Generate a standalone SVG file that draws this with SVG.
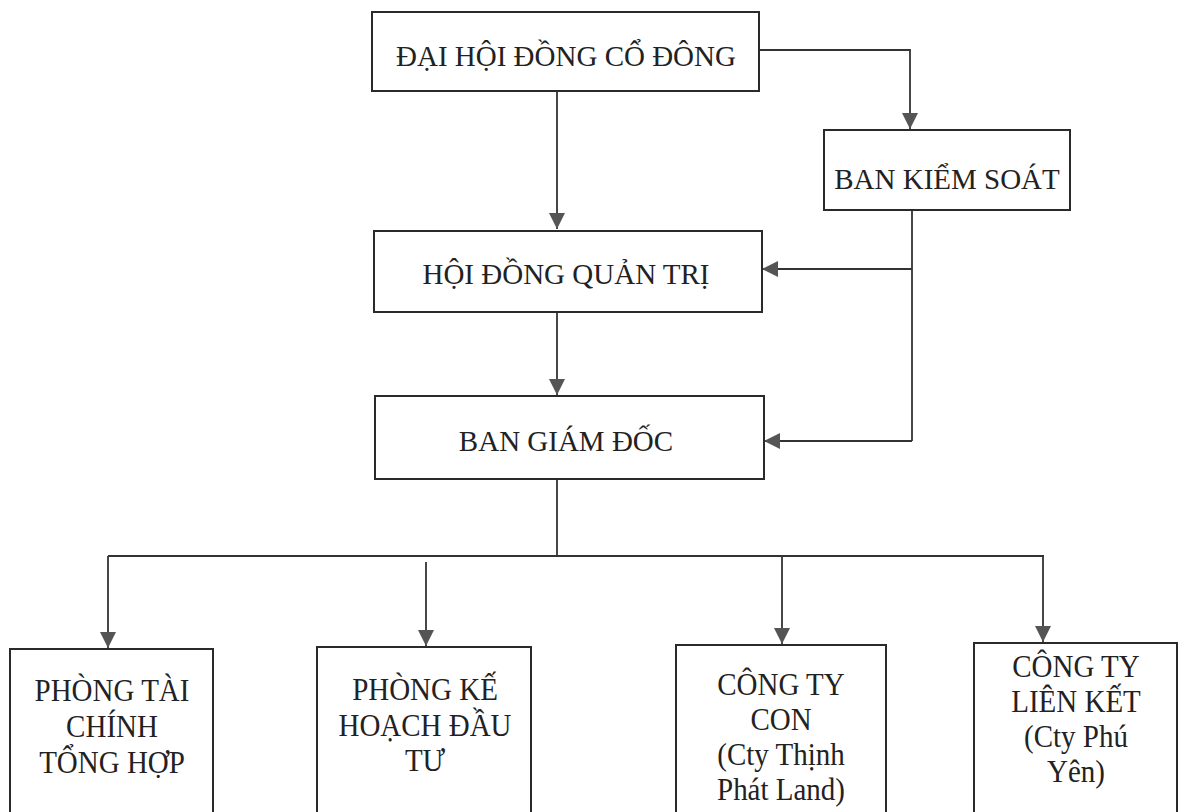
<svg xmlns="http://www.w3.org/2000/svg" width="1184" height="812" viewBox="0 0 1184 812">
<style>
.box{fill:#fff;stroke:#2a2a2a;stroke-width:2}
.ln{fill:none;stroke:#333;stroke-width:1.8}
text{font-family:"Liberation Serif","Times New Roman",serif;font-size:29px;fill:#222;text-anchor:middle}
</style>
<defs>
<marker id="ah" markerUnits="userSpaceOnUse" markerWidth="16" markerHeight="16" viewBox="0 0 16 16" refX="16" refY="8" orient="auto">
<path d="M0,0 L16,8 L0,16 Z" fill="#555"/>
</marker>
</defs>
<rect width="1184" height="812" fill="#fff"/>
<g id="connectors">
<path class="ln" d="M759,50 H910 V129" marker-end="url(#ah)"/>
<path class="ln" d="M557,91 V229" marker-end="url(#ah)"/>
<path class="ln" d="M912,210 V441"/>
<path class="ln" d="M912,269 H762" marker-end="url(#ah)"/>
<path class="ln" d="M912,441 H764" marker-end="url(#ah)"/>
<path class="ln" d="M557,312 V395" marker-end="url(#ah)"/>
<path class="ln" d="M557,479 V555"/>
<path class="ln" d="M108,556 H1044"/>
<path class="ln" d="M108,556 V648" marker-end="url(#ah)"/>
<path class="ln" d="M426,562 V646" marker-end="url(#ah)"/>
<path class="ln" d="M782,556 V644" marker-end="url(#ah)"/>
<path class="ln" d="M1043,556 V642" marker-end="url(#ah)"/>
</g>
<g id="n1"><rect class="box" x="372" y="12" width="387" height="79"/><text x="566" y="66">ĐẠI HỘI ĐỒNG CỔ ĐÔNG</text></g>
<g id="n2"><rect class="box" x="824" y="130" width="246" height="80"/><text x="947" y="189">BAN KIỂM SOÁT</text></g>
<g id="n3"><rect class="box" x="374" y="231" width="388" height="81"/><text x="566" y="284">HỘI ĐỒNG QUẢN TRỊ</text></g>
<g id="n4"><rect class="box" x="375" y="396" width="389" height="83"/><text x="566" y="451">BAN GIÁM ĐỐC</text></g>
<g id="n5"><rect class="box" x="10" y="649" width="203" height="190"/>
<text transform="translate(112,701) scale(1,1.1)">PHÒNG TÀI</text>
<text transform="translate(112,737) scale(1,1.1)">CHÍNH</text>
<text transform="translate(112,773) scale(1,1.1)">TỔNG HỢP</text></g>
<g id="n6"><rect class="box" x="317" y="647" width="214" height="190"/>
<text transform="translate(425,700) scale(1,1.1)">PHÒNG KẾ</text>
<text transform="translate(425,736) scale(1,1.1)">HOẠCH ĐẦU</text>
<text transform="translate(425,771) scale(1,1.1)">TƯ</text></g>
<g id="n7"><rect class="box" x="676" y="645" width="210" height="190"/>
<text transform="translate(781,695) scale(1,1.1)">CÔNG TY</text>
<text transform="translate(781,730) scale(1,1.1)">CON</text>
<text transform="translate(781,765) scale(1,1.1)">(Cty Thịnh</text>
<text transform="translate(781,800) scale(1,1.1)">Phát Land)</text></g>
<g id="n8"><rect class="box" x="974" y="643" width="203" height="190"/>
<text transform="translate(1076,677) scale(1,1.1)">CÔNG TY</text>
<text transform="translate(1076,712) scale(1,1.1)">LIÊN KẾT</text>
<text transform="translate(1076,747) scale(1,1.1)">(Cty Phú</text>
<text transform="translate(1076,782) scale(1,1.1)">Yên)</text></g>
</svg>
